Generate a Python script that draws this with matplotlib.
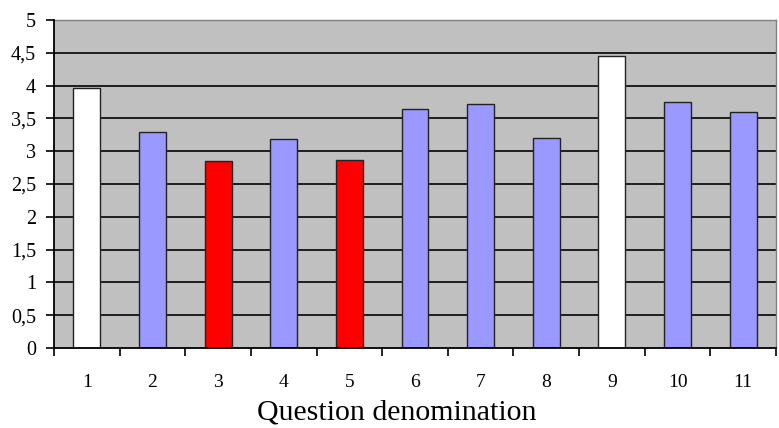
import matplotlib
matplotlib.use("Agg")
import matplotlib.pyplot as plt
from matplotlib.ticker import FixedLocator

categories = ["1", "2", "3", "4", "5", "6", "7", "8", "9", "10", "11"]
values = [3.97, 3.29, 2.85, 3.19, 2.87, 3.64, 3.72, 3.20, 4.45, 3.75, 3.60]
bar_colors = ["#FFFFFF", "#9999FF", "#FF0000", "#9999FF", "#FF0000", "#9999FF",
              "#9999FF", "#9999FF", "#FFFFFF", "#9999FF", "#9999FF"]
y_ticks = [0, 0.5, 1, 1.5, 2, 2.5, 3, 3.5, 4, 4.5, 5]
y_labels = ["0", "0,5", "1", "1,5", "2", "2,5", "3", "3,5", "4", "4,5", "5"]
x_title = "Question denomination"

plt.rcParams['font.family'] = ['Liberation Serif', 'DejaVu Serif']

fig = plt.figure(figsize=(7.79, 4.28), dpi=100)
ax = fig.add_axes([54/779, 1-348/428, (776-54)/779, (348-20)/428])
ax.set_facecolor("#C0C0C0")

x = list(range(1, len(categories)+1))
ax.bar(x, values, width=0.41, color=bar_colors, edgecolor="#222222",
       linewidth=1.0, zorder=3)

ax.set_xlim(0.5, len(categories)+0.5)
ax.set_ylim(0, 5)
for yv in y_ticks[1:-1]:
    ax.axhline(yv, color="#111111", linewidth=1.3, zorder=1)

ax.set_yticks(y_ticks)
ax.set_yticklabels(y_labels)
ax.tick_params(axis='y', direction='out', length=6, width=1.2, pad=7,
               colors='black', labelsize=14.5)

ax.xaxis.set_major_locator(FixedLocator([i + 0.5 for i in range(0, len(categories)+1)]))
ax.xaxis.set_major_formatter(plt.NullFormatter())
ax.set_xticks(x, minor=True)
ax.set_xticklabels(categories, minor=True)
ax.tick_params(axis='x', which='major', direction='out', length=6, width=1.2)
ax.tick_params(axis='x', which='minor', length=0, pad=19, labelsize=14)

for s in ['top', 'right']:
    ax.spines[s].set_color("#808080")
    ax.spines[s].set_linewidth(1.0)
ax.spines['left'].set_linewidth(1.3)
ax.spines['bottom'].set_linewidth(1.3)
ax.spines['left'].set_zorder(4)
ax.spines['bottom'].set_zorder(4)

fig.text(397/779, 1-412/428, x_title, ha='center', va='center', fontsize=21.5)

fig.savefig("out.png", dpi=100, facecolor="white")
